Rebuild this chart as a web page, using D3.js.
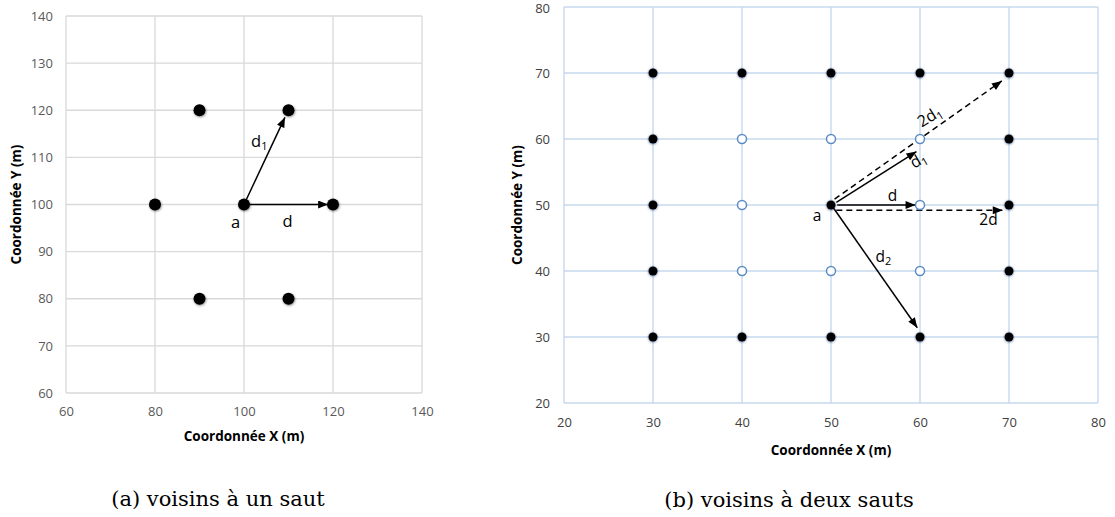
<!DOCTYPE html>
<html><head><meta charset="utf-8">
<script src="https://cdn.jsdelivr.net/npm/d3@7"></script>
<style>
body{margin:0;background:#fff;}
svg{display:block;}
</style></head>
<body><svg id="c" width="1115" height="517"></svg>
<script>
// ---- Data ----
// Left chart (a)
const leftXTicks = [60, 80, 100, 120, 140];
const leftYTicks = [60, 70, 80, 90, 100, 110, 120, 130, 140];
const leftPointsX = [90, 110, 80, 100, 120, 90, 110];
const leftPointsY = [120, 120, 100, 100, 100, 80, 80];
const leftArrowFromX = [100, 100];
const leftArrowFromY = [100, 100];
const leftArrowToX = [109.2, 118.9];
const leftArrowToY = [118.5, 100];
// Right chart (b)
const rightXTicks = [20, 30, 40, 50, 60, 70, 80];
const rightYTicks = [20, 30, 40, 50, 60, 70, 80];
const rightFilledX = [30, 40, 50, 60, 70, 30, 70, 30, 50, 70, 30, 70, 30, 40, 50, 60, 70];
const rightFilledY = [70, 70, 70, 70, 70, 60, 60, 50, 50, 50, 40, 40, 30, 30, 30, 30, 30];
const rightHollowX = [40, 50, 60, 40, 60, 40, 50, 60];
const rightHollowY = [60, 60, 60, 50, 50, 40, 40, 40];
// arrows: d, d1, d2 (solid), 2d, 2d1 (dashed)
const rightArrowName = ["d", "d1", "d2", "2d", "2d1"];
const rightArrowFromX = [50.7, 50.6, 50.3, 50.6, 50.4];
const rightArrowFromY = [50, 50.4, 49.5, 49.2, 50.9];
const rightArrowToX = [59.5, 59.6, 59.7, 69.3, 69.2];
const rightArrowToY = [50, 58.1, 31.4, 49.2, 68.8];
const rightArrowDashed = [false, false, false, true, true];

const svg = d3.select("#c");
const defs = svg.append("defs");
defs.append("marker").attr("id","ah").attr("viewBox","0 0 10 8").attr("refX",10).attr("refY",4)
  .attr("markerWidth",11).attr("markerHeight",8).attr("markerUnits","userSpaceOnUse").attr("orient","auto")
  .append("path").attr("d","M0,0L10,4L0,8Z").attr("fill","#000");
const f1 = defs.append("filter").attr("id","sh").attr("x","-50%").attr("y","-50%").attr("width","200%").attr("height","200%");
f1.append("feDropShadow").attr("dx",0.6).attr("dy",1).attr("stdDeviation",1).attr("flood-color","#000").attr("flood-opacity",0.45);
const f2 = defs.append("filter").attr("id","glow").attr("x","-80%").attr("y","-80%").attr("width","260%").attr("height","260%");
f2.append("feDropShadow").attr("dx",0).attr("dy",0.5).attr("stdDeviation",1.2).attr("flood-color","#1f3864").attr("flood-opacity",0.75);

const tickFont = "'Open Sans', sans-serif";
const lblFont = "'Open Sans', sans-serif";
const capFont = "'DejaVu Serif', serif";

// ---------- Left chart ----------
const lx = d3.scaleLinear().domain([60,140]).range([66,422]);
const ly = d3.scaleLinear().domain([60,140]).range([393,16]);
const L = svg.append("g");
L.selectAll(".gx").data(leftXTicks).join("line").attr("x1",d=>lx(d)).attr("x2",d=>lx(d))
  .attr("y1",ly(60)).attr("y2",ly(140)).attr("stroke","#d9d9d9").attr("stroke-width",1.3);
L.selectAll(".gy").data(leftYTicks).join("line").attr("y1",d=>ly(d)).attr("y2",d=>ly(d))
  .attr("x1",lx(60)).attr("x2",lx(140)).attr("stroke","#d9d9d9").attr("stroke-width",1.3);
const lxa = L.append("g").attr("transform",`translate(0,${ly(60)})`)
  .call(d3.axisBottom(lx).tickValues(leftXTicks).tickSize(0).tickPadding(14));
const lya = L.append("g").attr("transform",`translate(${lx(60)},0)`)
  .call(d3.axisLeft(ly).tickValues(leftYTicks).tickSize(0).tickPadding(13));
[lxa,lya].forEach(a=>{a.select(".domain").remove();
  a.selectAll("text").attr("font-family",tickFont).attr("font-size",13).attr("fill","#595959");});
L.append("text").attr("x",lx(100)).attr("y",441).attr("text-anchor","middle")
  .attr("font-family",tickFont).attr("font-size",13.5).attr("font-weight","bold").attr("fill","#000")
  .text("Coordonnée X (m)");
L.append("text").attr("transform",`translate(21,${ly(100)}) rotate(-90)`).attr("text-anchor","middle")
  .attr("font-family",tickFont).attr("font-size",13.5).attr("font-weight","bold").attr("fill","#000")
  .text("Coordonnée Y (m)");
L.selectAll(".la").data(leftArrowToX).join("line")
  .attr("x1",(d,i)=>lx(leftArrowFromX[i])).attr("y1",(d,i)=>ly(leftArrowFromY[i]))
  .attr("x2",(d,i)=>lx(leftArrowToX[i])).attr("y2",(d,i)=>ly(leftArrowToY[i]))
  .attr("stroke","#000").attr("stroke-width",1.5).attr("marker-end","url(#ah)");
L.selectAll(".lp").data(leftPointsX).join("circle")
  .attr("cx",(d)=>lx(d)).attr("cy",(d,i)=>ly(leftPointsY[i])).attr("r",6)
  .attr("fill","#000").attr("filter","url(#sh)");
L.append("text").attr("x",lx(98.1)).attr("y",228).attr("text-anchor","middle")
  .attr("font-family",lblFont).attr("font-size",16.5).text("a");
L.append("text").attr("x",lx(109.8)).attr("y",227).attr("text-anchor","middle")
  .attr("font-family",lblFont).attr("font-size",16.5).text("d");
const ld1 = L.append("text").attr("x",lx(101.6)).attr("y",147).attr("text-anchor","start")
  .attr("font-family",lblFont).attr("font-size",16.5);
ld1.append("tspan").text("d");
ld1.append("tspan").attr("font-size",11).attr("dy",3).text("1");
L.append("text").attr("x",218).attr("y",506).attr("text-anchor","middle")
  .attr("font-family",capFont).attr("font-size",21).attr("fill","#000")
  .text("(a) voisins à un saut");

// ---------- Right chart ----------
const rx = d3.scaleLinear().domain([20,80]).range([564,1098]);
const ry = d3.scaleLinear().domain([20,80]).range([403,7]);
const R = svg.append("g");
R.selectAll(".gx").data(rightXTicks).join("line").attr("x1",d=>rx(d)).attr("x2",d=>rx(d))
  .attr("y1",ry(20)).attr("y2",ry(80)).attr("stroke","#c6d9ee").attr("stroke-width",1.4);
R.selectAll(".gy").data(rightYTicks).join("line").attr("y1",d=>ry(d)).attr("y2",d=>ry(d))
  .attr("x1",rx(20)).attr("x2",rx(80)).attr("stroke","#c6d9ee").attr("stroke-width",1.4);
const rxa = R.append("g").attr("transform",`translate(0,${ry(20)})`)
  .call(d3.axisBottom(rx).tickValues(rightXTicks).tickSize(0).tickPadding(15));
const rya = R.append("g").attr("transform",`translate(${rx(20)},0)`)
  .call(d3.axisLeft(ry).tickValues(rightYTicks).tickSize(0).tickPadding(14));
[rxa,rya].forEach(a=>{a.select(".domain").remove();
  a.selectAll("text").attr("font-family",tickFont).attr("font-size",13).attr("fill","#404040");});
rya.selectAll("text").filter(d=>d===80).attr("dy","0.45em");
R.append("text").attr("x",rx(50)).attr("y",455).attr("text-anchor","middle")
  .attr("font-family",tickFont).attr("font-size",13.5).attr("font-weight","bold").attr("fill","#000")
  .text("Coordonnée X (m)");
R.append("text").attr("transform",`translate(522,${ry(50)}) rotate(-90)`).attr("text-anchor","middle")
  .attr("font-family",tickFont).attr("font-size",13.5).attr("font-weight","bold").attr("fill","#000")
  .text("Coordonnée Y (m)");
R.selectAll(".ra").data(rightArrowName).join("line")
  .attr("x1",(d,i)=>rx(rightArrowFromX[i])).attr("y1",(d,i)=>ry(rightArrowFromY[i]))
  .attr("x2",(d,i)=>rx(rightArrowToX[i])).attr("y2",(d,i)=>ry(rightArrowToY[i]))
  .attr("stroke","#000").attr("stroke-width",1.5)
  .attr("stroke-dasharray",(d,i)=>rightArrowDashed[i]?"6,4":null)
  .attr("marker-end","url(#ah)");
R.selectAll(".rh").data(rightHollowX).join("circle")
  .attr("cx",d=>rx(d)).attr("cy",(d,i)=>ry(rightHollowY[i])).attr("r",4.5)
  .attr("fill","#fff").attr("stroke","#5b8cc6").attr("stroke-width",1.5);
R.selectAll(".rf").data(rightFilledX).join("circle")
  .attr("cx",d=>rx(d)).attr("cy",(d,i)=>ry(rightFilledY[i])).attr("r",4.5)
  .attr("fill","#000").attr("filter","url(#glow)");
R.append("text").attr("x",rx(50)-14).attr("y",221).attr("text-anchor","middle")
  .attr("font-family",lblFont).attr("font-size",15.5).text("a");
R.append("text").attr("x",rx(56.9)).attr("y",201).attr("text-anchor","middle")
  .attr("font-family",lblFont).attr("font-size",15.5).text("d");
R.append("text").attr("x",rx(67.7)).attr("y",225).attr("text-anchor","middle")
  .attr("font-family",lblFont).attr("font-size",15.5).text("2d");
const rd2 = R.append("text").attr("x",rx(55.0)).attr("y",262).attr("text-anchor","start")
  .attr("font-family",lblFont).attr("font-size",15.5);
rd2.append("tspan").text("d");
rd2.append("tspan").attr("font-size",11).attr("dy",3).text("2");
const rd1 = R.append("text").attr("transform",`translate(${rx(60.1)},${ry(56.1)}) rotate(-30)`)
  .attr("text-anchor","middle").attr("font-family",lblFont).attr("font-size",16);
rd1.append("tspan").text("d");
rd1.append("tspan").attr("font-size",11).attr("dy",3).text("1");
const r2d1 = R.append("text").attr("transform",`translate(${rx(61.4)},${ry(62.7)}) rotate(-32)`)
  .attr("text-anchor","middle").attr("font-family",lblFont).attr("font-size",16);
r2d1.append("tspan").text("2d");
r2d1.append("tspan").attr("font-size",11).attr("dy",3).text("1");
R.append("text").attr("x",789).attr("y",507).attr("text-anchor","middle")
  .attr("font-family",capFont).attr("font-size",21).attr("fill","#000")
  .text("(b) voisins à deux sauts");
</script></body></html>
